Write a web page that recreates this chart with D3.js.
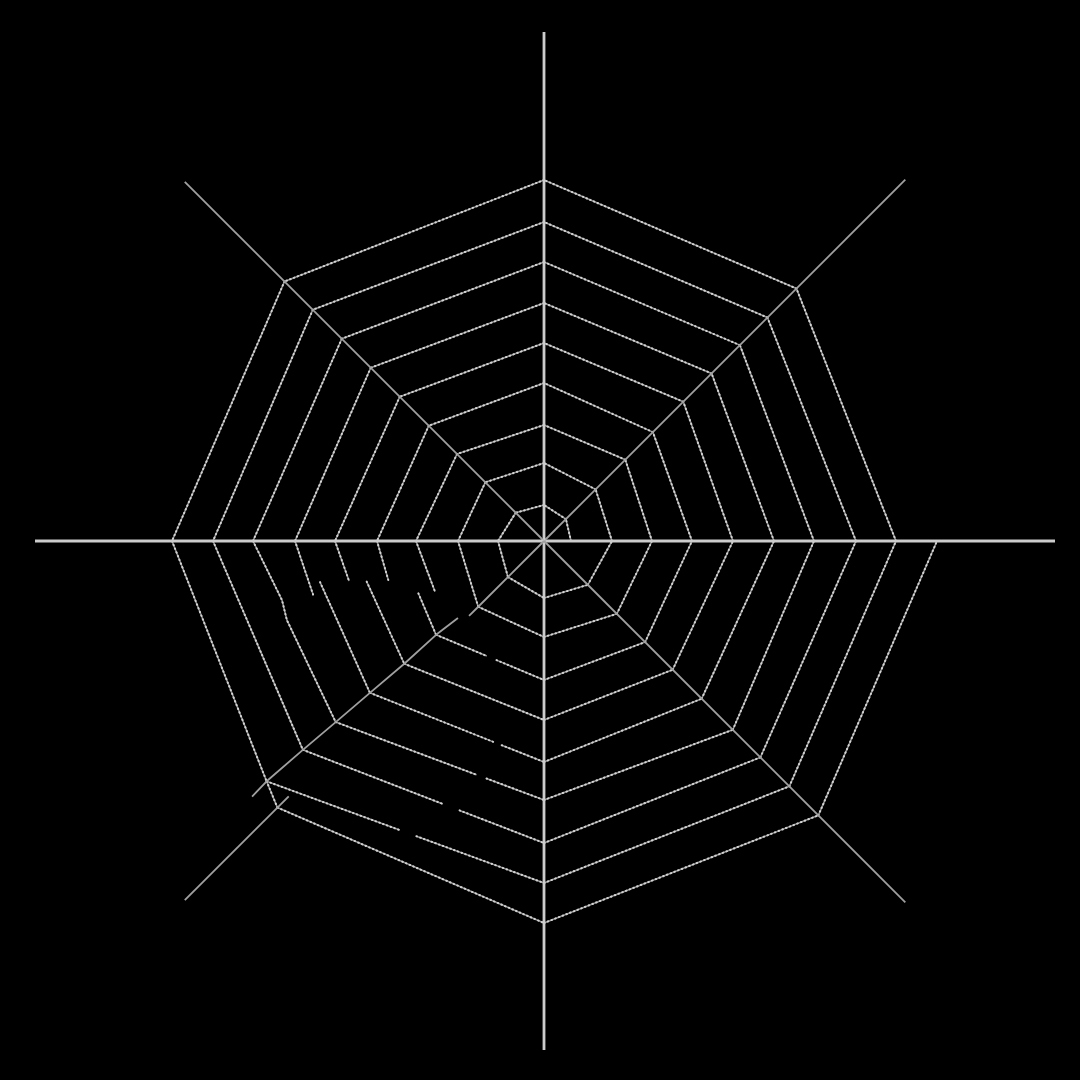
<!DOCTYPE html>
<html><head><meta charset="utf-8">
<script src="https://cdn.jsdelivr.net/npm/d3@7"></script>
<style>html,body{margin:0;background:#000;overflow:hidden}</style>
</head><body>
<svg id="c" width="1080" height="1080"></svg>
<script>
// ---------- data (polar: angle in degrees CCW from right, radius in px units of web) ----------
const spokeNames   = ["R","UR","T","UL","L","LL","B","LR"];
const spokeAngles  = [0,45,90,135,180,225,270,315];
const spokeLengths = [511,511,509,508,509,508,509,511];
const spokeMajor   = [true,false,true,false,true,false,true,false];

const radiiR  = [27,68,108,148,189,230,270,312,352,393];
const radiiUR = [31,73,115,154,197,237,277,316,357];
const radiiT  = [36,78,116,158,198,238,279,319,361];
const radiiUL = [40,83,123,163,204,245,286,327,367];
const radiiL  = [46,86,128,167,209,249,291,331,372];
const radiiLL = [51,93,143,186,231,276,319,367,377];
const radiiB  = [57,96,139,179,221,259,302,342,382];
const radiiLR = [62,103,143,182,223,267,306,347,388];
// the lower-left spoke is pulled out of line: angle of each of its crossings
const anglesLL = [225,225,221,221.3,221.1,221,220.9,220.9,225];
// which lower-left crossing each left-spoke ring is tied to (null = broken strand)
const leftLinks = [0,1,null,null,null,null,null,6,7];
// gaps in the lower-left -> bottom strands: [ring, fromFraction, toFraction]
const strandGaps = [[2,0.47,0.56],[4,0.709,0.757],[5,0.676,0.724],[6,0.58,0.65],[7,0.48,0.54]];
// broken / hanging pieces of thread, polar points [angle, radius]
const loosePieces = [
  [[180,128],[204.9,120.2]],
  [[180,167],[194.1,160.5]],
  [[202.6,136.1],[221,143]],
  [[180,209],[191.6,199]],
  [[192.9,181.9],[221.3,186]],
  [[180,249],[193.2,237]],
  [[190.4,227.7],[221.1,231]],
  [[180,291],[192.7,268.6],[197.1,269],[221,276]],
  [[220.9,367],[225,377]]
];
// bent lower-left spoke (in two pieces) and its loose outer tail
const bentSpokeInner = [[225,0],[225,93],[225,106]];
const bentSpokeOuter = [[221.8,115.4],[221,143],[221.3,186],[221.1,231],[221,276],[220.9,319],[220.9,367],[221.2,388]];
const spokeTail = [[225,361],[225,508]];

// ---------- drawing ----------
const W = 1080, H = 1080, cx = 544, cy = 541;
const svg = d3.select("#c");
svg.append("rect").attr("width",W).attr("height",H).attr("fill","#000");
const defs = svg.append("defs");
defs.append("filter").attr("id","soft").attr("x","-5%").attr("y","-5%").attr("width","110%").attr("height","110%")
  .append("feGaussianBlur").attr("stdDeviation",0.5);
const rScale = d3.scaleLinear().domain([0,520]).range([0,520]);
const aScale = d3.scaleLinear().domain([0,360]).range([0,2*Math.PI]);
function P(p){ const t=aScale(p[0]); return [cx + rScale(p[1])*Math.cos(t), cy - rScale(p[1])*Math.sin(t)]; }
const radii = {R:radiiR,UR:radiiUR,T:radiiT,UL:radiiUL,L:radiiL,LL:radiiLL,B:radiiB,LR:radiiLR};
function V(name,k){ const s=spokeNames.indexOf(name); const a = name==="LL"?anglesLL[k]:spokeAngles[s]; return P([a, radii[name][k]]); }
function lerp(a,b,t){ return [a[0]+(b[0]-a[0])*t, a[1]+(b[1]-a[1])*t]; }

const segs = [];
for(let k=0;k<9;k++){
  segs.push([V("R",k),V("UR",k)],[V("UR",k),V("T",k)],[V("T",k),V("UL",k)],[V("UL",k),V("L",k)]);
  if(leftLinks[k]!==null) segs.push([V("L",k),V("LL",leftLinks[k])]);
  const a=V("LL",k), b=V("B",k);
  const g = strandGaps.find(d=>d[0]===k);
  if(g){ segs.push([a,lerp(a,b,g[1])],[lerp(a,b,g[2]),b]); } else segs.push([a,b]);
  segs.push([V("B",k),V("LR",k)],[V("LR",k),V("R",k+1)]);
}
loosePieces.forEach(p=>segs.push(p.map(P)));

const line = d3.line();
const gw = svg.append("g").attr("filter","url(#soft)");
const threads = gw.append("g");
threads.selectAll("path.base").data(segs).join("path").attr("class","base")
  .attr("d",line).attr("fill","none").attr("stroke","#8a8a8a").attr("stroke-width",1.6)
  .attr("stroke-linejoin","round");
threads.selectAll("path.bead").data(segs).join("path").attr("class","bead")
  .attr("d",line).attr("fill","none").attr("stroke","#d2d2d2").attr("stroke-width",2)
  .attr("stroke-linecap","round").attr("stroke-dasharray","0.6,3.4");

const spokes = gw.append("g");
spokeNames.forEach((n,i)=>{
  if(n==="LL") return;
  spokes.append("path").attr("d",line([P([spokeAngles[i],0]),P([spokeAngles[i],spokeLengths[i]])]))
    .attr("fill","none").attr("stroke",spokeMajor[i]?"#cccccc":"#a0a0a0")
    .attr("stroke-width",spokeMajor[i]?2.8:1.8);
});
[bentSpokeInner,bentSpokeOuter,spokeTail].forEach(s=>{
  spokes.append("path").attr("d",line(s.map(P))).attr("fill","none").attr("stroke","#a0a0a0")
    .attr("stroke-width",1.8).attr("stroke-linejoin","round");
});
</script>
</body></html>
